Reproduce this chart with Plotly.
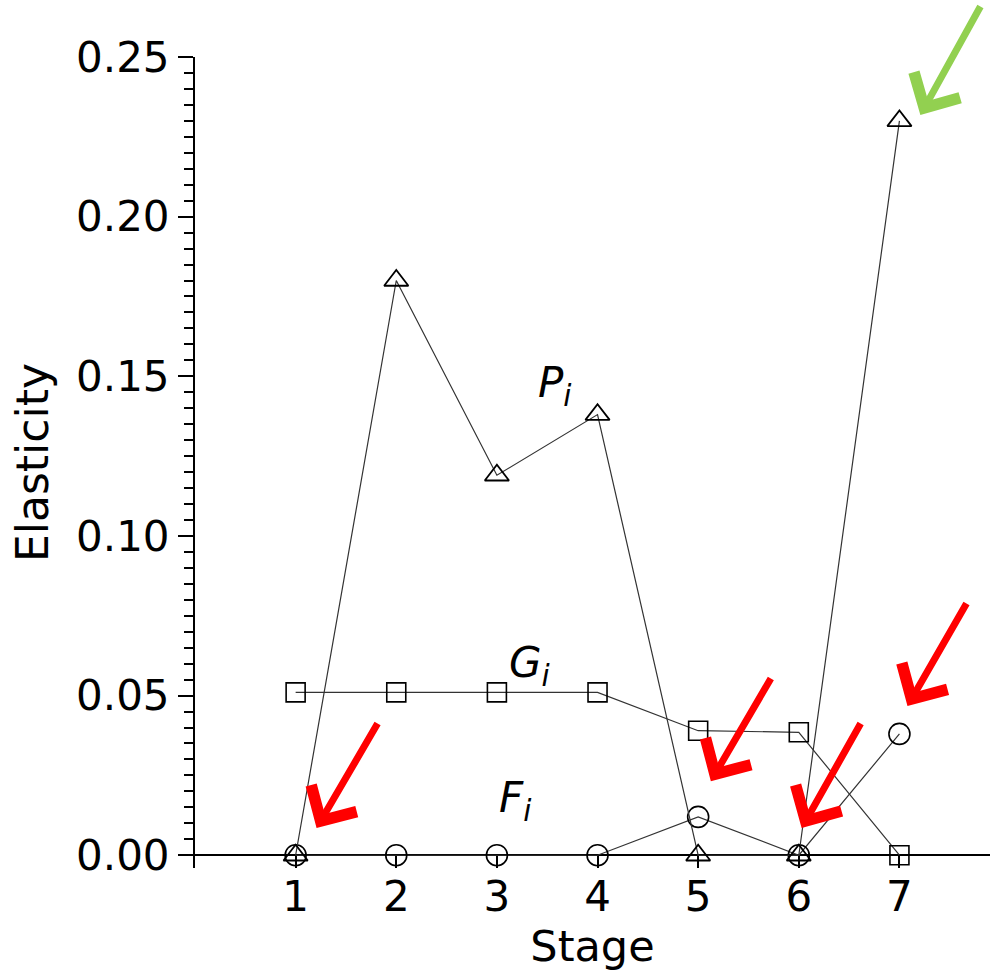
import plotly.graph_objects as go

stages = [1, 2, 3, 4, 5, 6, 7]
P_vals = [0.0, 0.180, 0.119, 0.138, 0.0, 0.0, 0.230]
G_vals = [0.051, 0.051, 0.051, 0.051, 0.039, 0.0385, 0.0]
F_vals = [0.0, 0.0, 0.0, 0.0, 0.012, 0.0, 0.038]
y_ticks = [0.0, 0.05, 0.10, 0.15, 0.20, 0.25]
y_tick_text = ["0.00", "0.05", "0.10", "0.15", "0.20", "0.25"]
x_tick_text = ["1", "2", "3", "4", "5", "6", "7"]

# arrow annotations: (tip_x, tip_y, tail_x, tail_y, color)
arrows = [
    (1.208, 0.0085, 1.823, 0.0417, "#ff0000"),
    (5.126, 0.0232, 5.731, 0.0558, "#ff0000"),
    (6.028, 0.0085, 6.623, 0.0417, "#ff0000"),
    (7.080, 0.0467, 7.675, 0.0793, "#ff0000"),
    (7.208, 0.2318, 7.813, 0.2663, "#92d050"),
]

FONT = "DejaVu Sans"
line_style = dict(color="#333333", width=1.2)

fig = go.Figure()
fig.add_trace(go.Scatter(x=stages, y=G_vals, mode="lines+markers", line=line_style,
                         marker=dict(symbol="square-open", size=19, color="black",
                                     line=dict(width=1.6, color="black"))))
fig.add_trace(go.Scatter(x=stages, y=F_vals, mode="lines+markers", line=line_style,
                         marker=dict(symbol="circle-open", size=21, color="black",
                                     line=dict(width=1.6, color="black"))))
fig.add_trace(go.Scatter(x=stages, y=P_vals, mode="lines+markers", line=line_style,
                         marker=dict(symbol="triangle-up-open", size=21, color="black",
                                     line=dict(width=1.8, color="black"))))

labels = [(3.58, 0.147, "P"), (3.33, 0.0595, "G"), (3.18, 0.017, "F")]
for lx, ly, t in labels:
    fig.add_annotation(x=lx, y=ly, text=f"<i>{t}<sub>i</sub></i>", showarrow=False,
                       font=dict(family=FONT, size=42, color="black"))

for tx, ty, ax, ay, c in arrows:
    fig.add_annotation(x=tx, y=ty, ax=ax, ay=ay, axref="x", ayref="y", xref="x", yref="y",
                       text="", showarrow=True, arrowhead=4, arrowsize=1.45,
                       arrowwidth=7, arrowcolor=c, standoff=0)

fig.update_layout(
    width=993, height=972,
    margin=dict(l=195, r=3, t=57, b=104),
    paper_bgcolor="white", plot_bgcolor="white",
    showlegend=False,
    font=dict(family=FONT, color="black"),
)
fig.update_xaxes(
    range=[0, 7.9], tickvals=stages, ticktext=x_tick_text,
    ticks="inside", ticklen=12, tickwidth=1.5, tickcolor="black",
    showline=False, showgrid=False,
    zeroline=False,
    tickfont=dict(family=FONT, size=42, color="black"),
    title=dict(text="Stage", font=dict(family=FONT, size=43, color="black"), standoff=6),
)
fig.update_yaxes(
    range=[-0.004, 0.25], tickvals=y_ticks, ticktext=y_tick_text,
    ticks="outside", ticklen=15, tickwidth=1.5, tickcolor="black",
    minor=dict(dtick=0.005, tick0=0, ticks="outside", ticklen=9, tickwidth=1.5, tickcolor="black"),
    showline=True, linecolor="black", linewidth=2,
    showgrid=False, zeroline=True, zerolinecolor="black", zerolinewidth=1.6,
    tickfont=dict(family=FONT, size=42, color="black"),
    title=dict(text="Elasticity", font=dict(family=FONT, size=44, color="black"), standoff=14),
)

fig.write_html("out.html")
